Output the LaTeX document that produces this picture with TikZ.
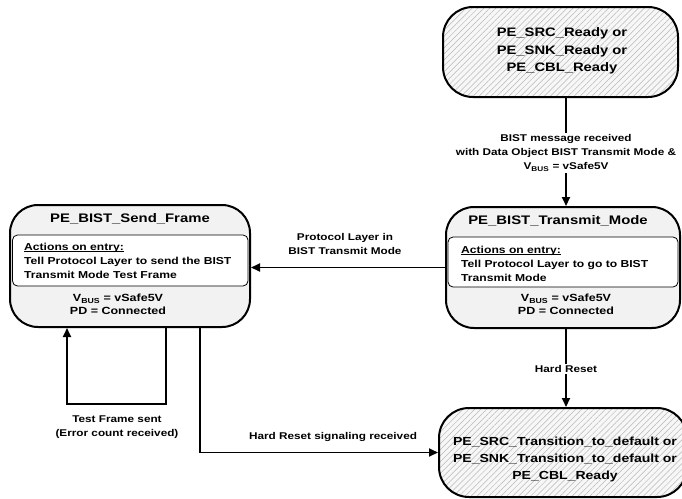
\documentclass[tikz,border=0pt]{standalone}
\usepackage{fontspec}
\setmainfont{Liberation Sans}[FakeStretch=1.2]
\usetikzlibrary{arrows.meta,patterns.meta}
\definecolor{statefill}{HTML}{F2F2F2}
\definecolor{hatchbg}{HTML}{F7F7F7}
\definecolor{hatchline}{HTML}{B8B8B8}
% underline drawn close to the baseline
\newcommand{\entryul}[1]{\setbox0\hbox{#1}\rlap{\rule[-1.5pt]{\wd0}{0.7pt}}#1}
\tikzset{
  statebox/.style={draw=black, line width=2pt, rounded corners=28pt, fill=statefill, inner sep=0pt},
  endbox/.style={draw=black, line width=2pt, rounded corners=30pt, inner sep=0pt,
    preaction={fill=hatchbg},
    pattern={Lines[angle=45,distance=4.2pt,line width=0.5pt]}, pattern color=hatchline},
  actbox/.style={draw=black, line width=0.8pt, rounded corners=5pt, fill=white, inner sep=0pt},
  sname/.style={font=\bfseries\fontsize{11.7}{17}\selectfont, align=center, inner sep=0pt},
  stitle/.style={font=\bfseries\fontsize{12.4}{17}\selectfont, align=center, inner sep=0pt},
  body/.style={font=\bfseries\fontsize{10.1}{14}\selectfont, align=left, inner sep=0pt},
  cond/.style={font=\bfseries\fontsize{10.4}{13}\selectfont, align=center, inner sep=0pt},
  elabel/.style={font=\bfseries\fontsize{9.8}{14}\selectfont, align=center, inner sep=1.5pt},
  arr/.style={line width=1.8pt, -{Triangle[length=9pt,width=8pt]}},
}
\begin{document}
\begin{tikzpicture}[x=1pt,y=-1pt]
\useasboundingbox (0,0) rectangle (682,498);

% ready states (entry point)
\node[endbox, minimum width=235pt, minimum height=90pt] (ready) at (560.5,52) {};
\node[sname, font=\bfseries\fontsize{12.3}{17.5}\selectfont] (readytxt) at (562,51) {PE\_SRC\_Ready or\\PE\_SNK\_Ready or\\PE\_CBL\_Ready};

% PE_BIST_Transmit_Mode
\node[statebox, minimum width=234pt, minimum height=121pt] (tm) at (563,267.5) {};
\node[actbox, minimum width=230pt, minimum height=50pt] (tmact) at (563,262) {};
\node[stitle] (tmname) at (558,221) {PE\_BIST\_Transmit\_Mode};
\node[body, anchor=west] (tmbody) at (461,264) {\entryul{Actions on entry:}\\Tell Protocol Layer to go to BIST\\Transmit Mode};
\node[cond] (tmcond) at (566,304.5) {V\textsubscript{BUS} = vSafe5V\\PD = Connected};

% PE_BIST_Send_Frame
\node[statebox, minimum width=240pt, minimum height=122pt] (sf) at (130,266) {};
\node[actbox, minimum width=235.5pt, minimum height=51pt] (sfact) at (130.25,260.5) {};
\node[stitle] (sfname) at (130,219) {PE\_BIST\_Send\_Frame};
\node[body, anchor=west] (sfbody) at (24,261) {\entryul{Actions on entry:}\\Tell Protocol Layer to send the BIST\\Transmit Mode Test Frame};
\node[cond] (sfcond) at (118,304.5) {V\textsubscript{BUS} = vSafe5V\\PD = Connected};

% hard reset targets
\node[endbox, minimum width=248pt, minimum height=89pt] (hr) at (563,452.5) {};
\node[sname] (hrtxt) at (565,459) {PE\_SRC\_Transition\_to\_default or\\PE\_SNK\_Transition\_to\_default or\\PE\_CBL\_Ready};

% connector columns
\coordinate (cx) at (566,0);
\coordinate (loopout) at (166,0);
\coordinate (loopin) at (67,0);
\coordinate (hrout) at (200,0);

% BIST message received
\draw[arr] (ready.south -| cx) -- (tm.north -| cx);
\node[elabel, fill=white] (bistlbl) at (566,153) {BIST message received\\with Data Object BIST Transmit Mode \&\\V\textsubscript{BUS} = vSafe5V};

% Protocol Layer in BIST Transmit Mode
\draw[arr] (tm.west) -- (sf.east |- tm.west);
\node[elabel] (pllbl) at (345,243.5) {Protocol Layer in\\BIST Transmit Mode};

% Hard Reset
\draw[arr] (tm.south -| cx) -- (hr.north -| cx);
\node[elabel, fill=white] (hrlbl) at (566,369) {Hard Reset};

% Test Frame sent loop
\draw[arr] (sf.south -| loopout) -- ++(0,76) -| (sf.south -| loopin);
\node[elabel] (tflbl) at (117,427) {Test Frame sent\\(Error count received)};

% Hard Reset signaling received
\draw[arr] (sf.south -| hrout) |- (hr.west);
\node[elabel] (hslbl) at (333,437) {Hard Reset signaling received};
\end{tikzpicture}
\end{document}
